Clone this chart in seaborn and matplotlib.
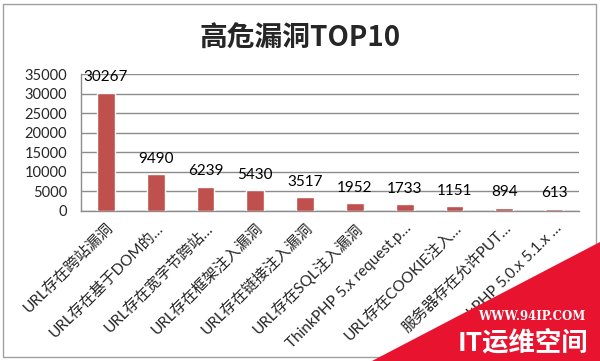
import matplotlib
matplotlib.use("Agg")
import matplotlib.pyplot as plt
import seaborn as sns
import pandas as pd
from matplotlib.patches import Rectangle, Polygon

categories = [
    "URL存在跨站漏洞",
    "URL存在基于DOM的…",
    "URL存在宽字节跨站…",
    "URL存在框架注入漏洞",
    "URL存在链接注入漏洞",
    "URL存在SQL注入漏洞",
    "ThinkPHP 5.x request.p…",
    "URL存在COOKIE注入…",
    "服务器存在允许PUT…",
    "ThinkPHP 5.0.x 5.1.x …",
]
values = [30267, 9490, 6239, 5430, 3517, 1952, 1733, 1151, 894, 613]
yticks = [0, 5000, 10000, 15000, 20000, 25000, 30000, 35000]
title = "高危漏洞TOP10"

sns.set_theme(style="white")
plt.rcParams['font.family'] = ['Lato', 'Noto Sans CJK SC', 'DejaVu Sans']

df = pd.DataFrame({"cat": categories, "val": values})

fig = plt.figure(figsize=(6.0, 3.61), dpi=100)
ax = fig.add_axes([81/600, 1-211/361, (579-81)/600, (211-74)/361])

sns.barplot(data=df, x="cat", y="val", color="#C0504D", width=0.36,
            saturation=1, ax=ax, zorder=3)

ax.set_ylim(0, 35000)
ax.set_xlim(-0.5, len(categories)-0.5)
ax.set_yticks(yticks)
ax.set_yticklabels([str(t) for t in yticks], fontsize=10.5)
ax.yaxis.grid(True, color="#8C8C8C", linewidth=1)
ax.set_axisbelow(True)
ax.set_xlabel("")
ax.set_ylabel("")

for s in ["top", "right"]:
    ax.spines[s].set_visible(False)
for s in ["left", "bottom"]:
    ax.spines[s].set_color("#8C8C8C")
    ax.spines[s].set_linewidth(1)

ax.set_xticks([i for i in range(len(categories))])
ax.set_xticklabels(categories, rotation=45, ha="right", rotation_mode="anchor",
                   fontsize=11)
ax.tick_params(axis="x", length=0, pad=7)
ax.set_xticks([i - 0.5 for i in range(len(categories) + 1)], minor=True)
ax.tick_params(axis="x", which="minor", length=4, color="#8C8C8C", direction="out")
ax.tick_params(axis="y", length=4, color="#8C8C8C", direction="out", pad=6)

for i, v in enumerate(values):
    ax.annotate(str(v), (i, v), xytext=(0, 8), textcoords="offset points",
                ha="center", va="baseline", fontsize=11, color="black", zorder=5)

fig.text(0.5, 1-39/361, title, ha="center", va="center", fontsize=20,
         fontweight="bold", family=['Noto Sans CJK SC', 'DejaVu Sans'])

fig.patches.append(Rectangle((3/600, 4/361), 593/600, 353/361, transform=fig.transFigure,
                             fill=False, edgecolor="#A0A0A0", linewidth=1))

fig.patches.append(Polygon([(372/600, 0), (1, 1-242/361), (1, 0)], closed=True,
                           transform=fig.transFigure, facecolor="#E8132F",
                           edgecolor="none", zorder=10))
fig.text(532/600, 1-317/361, "WWW.94IP.COM", ha="center", va="center",
         fontsize=8.5, fontweight="bold", color="white", zorder=11,
         family=['DejaVu Serif'])
fig.text(523/600, 1-343/361, "IT运维空间", ha="center", va="center",
         fontsize=19, fontweight="bold", color="white", zorder=11,
         family=['Noto Sans CJK SC', 'DejaVu Sans'])

fig.savefig("out.png", dpi=100)
